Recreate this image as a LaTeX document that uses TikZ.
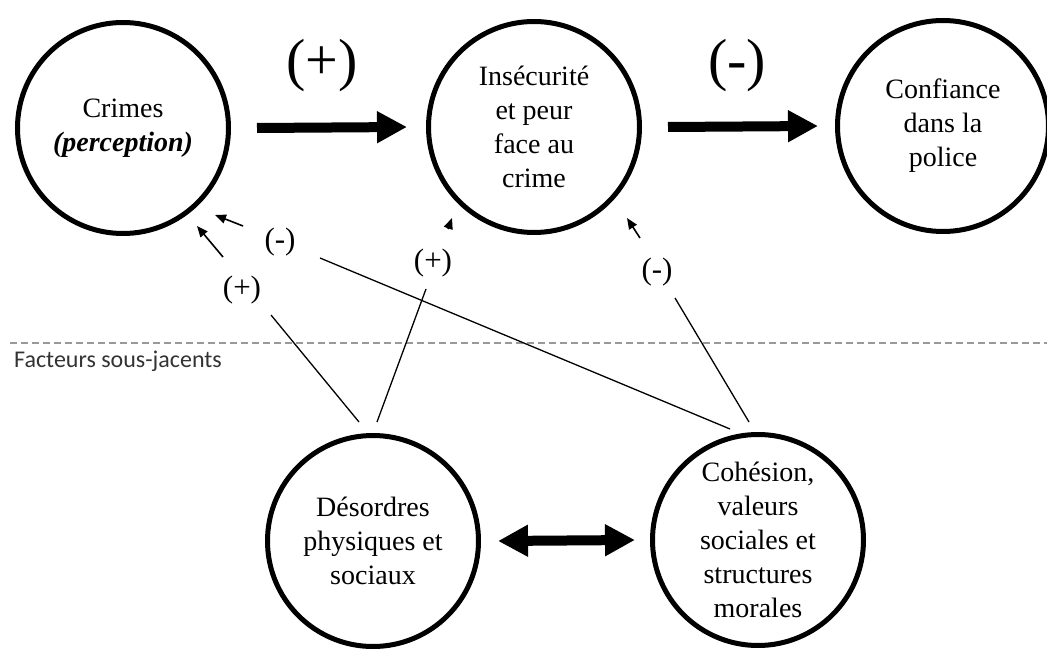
\documentclass[tikz,border=0pt]{standalone}
\usepackage{fontspec}
\setmainfont{Liberation Serif}
\newfontfamily\carlito{Carlito}
\usetikzlibrary{arrows.meta}
\tikzset{
  bubble/.style={circle,draw=black,line width=5pt,minimum size=211pt,inner sep=0pt,align=center,
    font=\fontsize{28}{34}\selectfont},
  bigarrow/.style={line width=10pt,-{Triangle[length=30pt,width=30pt]}},
  bigdarrow/.style={line width=10pt,{Triangle[length=30pt,width=30pt]}-{Triangle[length=30pt,width=30pt]}},
  thinline/.style={line width=1.3pt},
  smallarrow/.style={line width=1.6pt,-{Triangle[length=11pt,width=9pt]}},
  sign/.style={font=\fontsize{31}{36}\selectfont,inner sep=0pt},
  bigsign/.style={font=\fontsize{58}{66}\selectfont,inner sep=0pt},
}
\begin{document}
\begin{tikzpicture}[x=1pt,y=-1pt]
\useasboundingbox (0,0) rectangle (1047,652);
% circles
\node[bubble] (crimes) at (123,128) {Crimes\\\textbf{\textit{(perception)}}};
\node[bubble] (insec) at (534,127) {Insécurité\\et peur\\face au\\crime};
\node[bubble] (conf) at (943,126) {Confiance\\dans la\\police};
\node[bubble] (desord) at (373,541) {Désordres\\physiques et\\sociaux};
\node[bubble] (cohes) at (758,540) {Cohésion,\\valeurs\\sociales et\\structures\\morales};
% main arrows
\draw[bigarrow] ([xshift=26pt]crimes.east) -- ([xshift=-19pt]insec.west);
\draw[bigarrow] ([xshift=26pt]insec.east) -- ([xshift=-17pt]conf.west);
\draw[bigdarrow] ([xshift=17pt]desord.east) -- ([xshift=-15pt]cohes.west);
\node[bigsign] (p1) at (322,66) {(+)};
\node[bigsign] (m1) at (737,66) {(-)};
% dashed separator
\coordinate (dl) at (10,343);
\coordinate (dr) at (1047,343);
\draw[gray!80,line width=1.2pt,dash pattern=on 7pt off 4pt] (dl) -- (dr);
\node[anchor=base west,font=\carlito\fontsize{24}{28}\selectfont,text=black!80,inner sep=0pt] (fact) at (14,367) {Facteurs sous-jacents};
% signs
\node[sign] (sA) at (280,242) {(-)};
\node[sign] (sB) at (242,290) {(+)};
\node[sign] (sC) at (433,263) {(+)};
\node[sign] (sD) at (657,272) {(-)};
% connector coordinates
\coordinate (a1) at (730,429); \coordinate (a2) at (320,258);
\coordinate (a3) at (243,226); \coordinate (a4) at (215,215);
\coordinate (b1) at (359,422); \coordinate (b2) at (271,315);
\coordinate (b3) at (223,257); \coordinate (b4) at (197,226);
\coordinate (c1) at (377,422); \coordinate (c2) at (426,289);
\coordinate (c3) at (448,229); \coordinate (c4) at (452,218);
\coordinate (d1) at (749,422); \coordinate (d2) at (675,298);
\coordinate (d3) at (640,238); \coordinate (d4) at (627,218);
\draw[thinline] (a1) -- (a2);
\draw[smallarrow] (a3) -- (a4);
\draw[thinline] (b1) -- (b2);
\draw[smallarrow] (b3) -- (b4);
\draw[thinline] (c1) -- (c2);
\draw[smallarrow] (c3) -- (c4);
\draw[thinline] (d1) -- (d2);
\draw[smallarrow] (d3) -- (d4);
\end{tikzpicture}
\end{document}
